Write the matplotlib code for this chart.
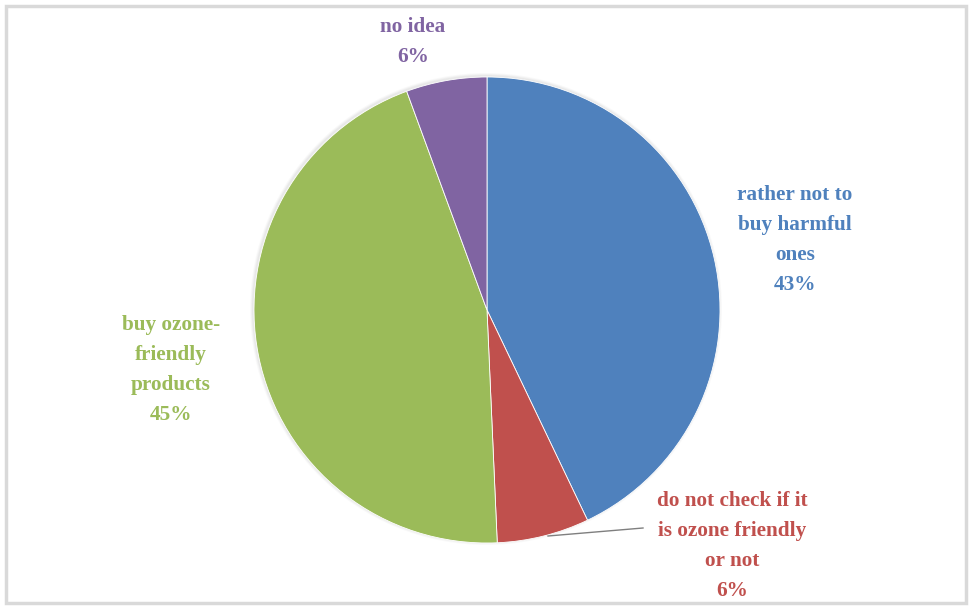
import matplotlib.pyplot as plt
from matplotlib.patches import Rectangle

labels = ["rather not to\nbuy harmful\nones", "do not check if it\nis ozone friendly\nor not",
          "buy ozone-\nfriendly\nproducts", "no idea"]
values = [42.9, 6.4, 45.1, 5.6]
shown = ["43%", "6%", "45%", "6%"]
colors = ["#4F81BD", "#C0504D", "#9BBB59", "#8064A2"]

W, H = 969, 608
fig = plt.figure(figsize=(W / 100, H / 100), dpi=100)
ax = fig.add_axes([0, 0, 1, 1])

# frame of the chart area
ax.add_patch(Rectangle((6, 5), 960, 597, fill=False, edgecolor="#d9d9d9", lw=2.5))

cx, cy, r = 487, H - 310, 233
# soft shadow
for i, a in enumerate([0.025, 0.03, 0.035]):
    ax.add_patch(plt.Circle((cx - 1, cy + 1), r + 3 - i, color="black", alpha=a, lw=0))
ax.pie(values, colors=colors, startangle=90, counterclock=False, center=(cx, cy), radius=r,
       wedgeprops=dict(edgecolor="white", linewidth=0.6), frame=True)
ax.set_xlim(0, W)
ax.set_ylim(0, H)
ax.set_aspect("equal")
ax.axis("off")

font = dict(family="Liberation Serif", fontweight="bold", fontsize=15.3, ha="center",
            va="center", linespacing=1.68)
pos = [(795, 240), (732, 546), (171, 370), (413, 42)]
for lab, s, c, (x, y) in zip(labels, shown, colors, pos):
    ax.text(x, H - y, lab + "\n" + s, color=c, **font)

# leader line for the small red slice
ax.plot([548, 643], [H - 536, H - 528], color="#7f7f7f", lw=1)

fig.savefig("out.png", dpi=100)
